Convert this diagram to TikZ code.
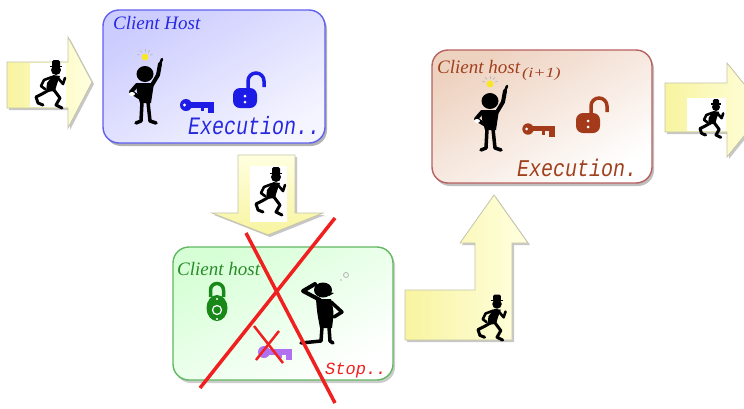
\documentclass[tikz,border=0pt]{standalone}
\usepackage{fontspec}
\setmainfont{Liberation Serif}
\setmonofont{Liberation Mono}
\usetikzlibrary{calc}

\definecolor{bluehost}{RGB}{96,96,240}
\definecolor{bluetext}{RGB}{40,40,224}
\definecolor{blueicon}{RGB}{28,28,230}
\definecolor{greenhost}{RGB}{96,184,96}
\definecolor{greentext}{RGB}{40,140,40}
\definecolor{greenicon}{RGB}{24,136,24}
\definecolor{brownhost}{RGB}{184,96,96}
\definecolor{browntext}{RGB}{160,64,30}
\definecolor{brownicon}{RGB}{163,59,26}
\definecolor{keyviolet}{RGB}{176,112,240}
\definecolor{crossred}{RGB}{240,32,32}
\definecolor{arrowedge}{RGB}{196,196,170}
\definecolor{arrowyellow}{RGB}{248,244,160}
\definecolor{arrowpale}{RGB}{255,255,224}
\definecolor{bulbyellow}{RGB}{250,230,40}

\tikzset{
  hostbox/.style={rounded corners=16pt, line width=1.4pt},
  boxshadow/.style={fill=black!30, rounded corners=16pt},
  blockarrow/.style={draw=arrowedge, line width=0.8pt, line join=miter},
  arrowshadow/.style={fill=black!22},
  limb/.style={line width=#1, line cap=round, line join=round},
  crossline/.style={draw=crossred, line width=3.5pt},
  hosttitle/.style={font=\fontsize{19}{19}\selectfont\itshape, inner sep=0pt, anchor=base west},
  hoststate/.style={font=\fontsize{20}{20}\selectfont\ttfamily\itshape, inner sep=0pt, anchor=base west},
  % standing man with a light bulb, head at the origin
  thinker/.pic={
    \fill[bulbyellow] (0,-17) circle (3.5);
    \foreach \a in {200,235,270,305,340}
      \draw[gray!55, line width=0.8pt] (0,-17) ++(\a:5.5) -- ++(\a:2.5);
    \fill (0,0) ellipse (8.5 and 8);
    \fill (-9,9) -- (9,9) .. controls (8,19) .. (6,29) -- (-5,29) .. controls (-8,19) .. cycle;
    \draw[limb=4] (7,11) -- (13,1) -- (15,-10);
    \draw[limb=2.5] (15,-10) -- (17,-15);
    \draw[limb=4] (-8,11) -- (-14,18) -- (-6,23);
    \fill[white] (-13,20) ellipse (3 and 2);
    \draw[limb=3.5] (-3,28) -- (-4,47) -- (-9,49);
    \draw[limb=3.5] (3,28) -- (5,47) -- (11,49);
  },
  % man holding his head, head at the origin
  puzzled/.pic={
    \draw[gray!60, line width=0.8pt] (23,-15) circle (2.5);
    \fill[gray!60] (18,-10) circle (0.9);
    \fill (0,0) ellipse (9 and 7.5);
    \fill (5,2) -- (11,3) -- (6,6) -- cycle;
    \draw[limb=4] (-3,10) -- (-20,1) -- (-8,-6);
    \fill (-7,9) -- (8,9) .. controls (11,22) .. (9,38) -- (-3,38) .. controls (-6,22) .. cycle;
    \draw[limb=3.5] (8,12) -- (19,22) -- (11,27);
    \draw[limb=3.5] (-1,37) -- (-2,51) -- (-22,53);
    \draw[limb=3.5] (6,37) -- (7,51) -- (10,53);
  },
  % running man in a bowler hat, head at the origin
  runner/.pic={
    \fill (0,0) circle (5);
    \fill[rounded corners=1.5pt] (-4,-3) rectangle (4,-10);
    \fill (-6,-3) rectangle (6,-4.5);
    \fill (-3,5) -- (4,6) -- (1,14) -- (-1,21) -- (-10,22) -- (-9,13) -- cycle;
    \draw[limb=2.6] (-4,7) -- (-12,10) -- (-15,16) -- (-11,19);
    \draw[limb=2.6] (2,8) -- (7,14) -- (9,8);
    \draw[limb=3] (-7,20) -- (-14,24) -- (-20,27) -- (-18,33) -- (-13,35);
    \draw[limb=3] (-2,20) -- (4,28) -- (0,35) -- (6,38);
  },
  % key, bow centre at the origin
  hostkey/.pic={
    \fill (0,0) circle (6);
    \fill (3,-3) rectangle (28,2.5);
    \fill (22,2.5) rectangle (28,8);
    \fill (15,2.5) rectangle (18,6);
    \fill[white] (-1.5,0) circle (1.6);
  },
  % open padlock, body centre at the origin
  openlock/.pic={
    \draw[line width=3.5pt] (3,-8) -- (3,-16) arc[start angle=180, end angle=360, radius=8] -- (19,-10);
    \fill[rounded corners=7pt] (-12,-9) rectangle (12,11);
    \fill[white] (0,-1) circle (1.5);
    \fill[white] (0,5) circle (1.5);
  },
  % closed padlock, body centre at the origin
  closedlock/.pic={
    \draw[line width=3.5pt] (-6.5,-8) -- (-6.5,-15) arc[start angle=180, end angle=360, radius=6.5] -- (6.5,-8);
    \fill (0,3) ellipse (10.5 and 13);
    \draw[white, line width=1.2pt] (0,5) circle (4.5);
    \fill[white] (0,-6) circle (1.2);
    \fill[white] (0,14) circle (1.2);
  },
}

\begin{document}
\begin{tikzpicture}[x=1pt, y=-1pt]
\useasboundingbox (0,0) rectangle (744,408);

% ---------------- entering arrow ----------------
\fill[arrowshadow] (9,64) -- (70,64) -- (70,39) -- (94,84) -- (70,130) -- (70,110) -- (9,110) -- cycle;
\path[blockarrow, left color=arrowyellow, right color=arrowpale]
  (7,62) -- (68,62) -- (68,37) -- (92,82) -- (68,128) -- (68,108) -- (7,108) -- cycle;
\fill[white] (30,63) rectangle (66,107);
\pic at (56,70) {runner};

% ---------------- first client host ----------------
\fill[boxshadow] (105,13) rectangle (327,146);
\path[hostbox, draw=bluehost, top color=blue!20, bottom color=blue!4, shading angle=30]
  (103,10) rectangle (325,143);
\node[hosttitle, text=bluetext] (hostA) at (113,29) {Client Host};
\node[hoststate, text=bluetext] (stateA) at (188,134) {\scalebox{1}[1.25]{Execution..}};
\pic at (145,74) {thinker};
\pic[blueicon] at (186,105) {hostkey};
\pic[blueicon] at (245,97) {openlock};

% ---------------- arrow down to the stopped host ----------------
\fill[arrowshadow] (240,157) -- (297,157) -- (297,215) -- (325,215) -- (270,237) -- (214,215) -- (240,215) -- cycle;
\path[blockarrow, top color=arrowpale, bottom color=arrowyellow]
  (238,155) -- (295,155) -- (295,213) -- (323,213) -- (268,235) -- (212,213) -- (238,213) -- cycle;
\fill[white] (250,166) rectangle (287,222);
\pic at (276,177) {runner};

% ---------------- stopped client host ----------------
\fill[boxshadow, fill=black!20] (175,250) rectangle (395,383);
\path[hostbox, draw=greenhost, top color=green!16!white, bottom color=white, shading angle=30]
  (173,247) rectangle (393,380);
\node[hosttitle, text=greentext] (hostB) at (177,275) {Client host};
\node[hoststate, text=crossred, font=\fontsize{17}{17}\selectfont\ttfamily\itshape] (stateB) at (325,374) {Stop..};
\pic[greenicon] at (217,305) {closedlock};
\pic[keyviolet] at (264,352) {hostkey};
\pic at (323,290) {puzzled};
% crossing out
\draw[crossline] (246,233) -- (335,403);
\draw[crossline] (335,218) -- (200,388);
\draw[crossline, line width=2.5pt] (254,326) -- (283,363);
\draw[crossline, line width=2.5pt] (279,331) -- (256,360);

% ---------------- bent arrow to the next host ----------------
\fill[arrowshadow] (407,292) -- (477,292) -- (477,245) -- (462,245) -- (496,197) -- (530,245) -- (514,245) -- (514,342) -- (407,342) -- cycle;
\path[blockarrow, left color=arrowyellow, right color=arrowpale]
  (405,290) -- (475,290) -- (475,243) -- (460,243) -- (494,195) -- (528,243) -- (512,243) -- (512,340) -- (405,340) -- cycle;
\pic[scale=0.95] at (497,304) {runner};

% ---------------- next client host ----------------
\fill[boxshadow, fill=black!25] (434,53) rectangle (654,186);
\path[hostbox, draw=brownhost, top color={rgb,255:red,238;green,210;blue,192}, bottom color=white, shading angle=30]
  (432,50) rectangle (652,183);
\node[hosttitle, text=browntext] (hostC) at (437,73) {Client host};
\node[hosttitle, text=browntext, font=\fontsize{14}{14}\selectfont\itshape] (indexC) at (522,77) {\scalebox{1.3}[1]{(i+1)}};
\node[hoststate, text=browntext] (stateC) at (517,176) {\scalebox{1}[1.2]{Execution.}};
\pic at (490,101) {thinker};
\pic[brownicon, scale=0.95] at (528,129) {hostkey};
\pic[brownicon] at (588,122) {openlock};

% ---------------- leaving arrow ----------------
\fill[arrowshadow] (667,85) -- (729,85) -- (729,65) -- (767,112) -- (729,159) -- (729,134) -- (667,134) -- cycle;
\path[blockarrow, left color=arrowyellow, right color=arrowpale]
  (665,83) -- (727,83) -- (727,63) -- (765,110) -- (727,157) -- (727,132) -- (665,132) -- cycle;
\fill[white] (687,98) rectangle (726,131);
\pic[scale=0.8] at (716,107) {runner};
\end{tikzpicture}
\end{document}
